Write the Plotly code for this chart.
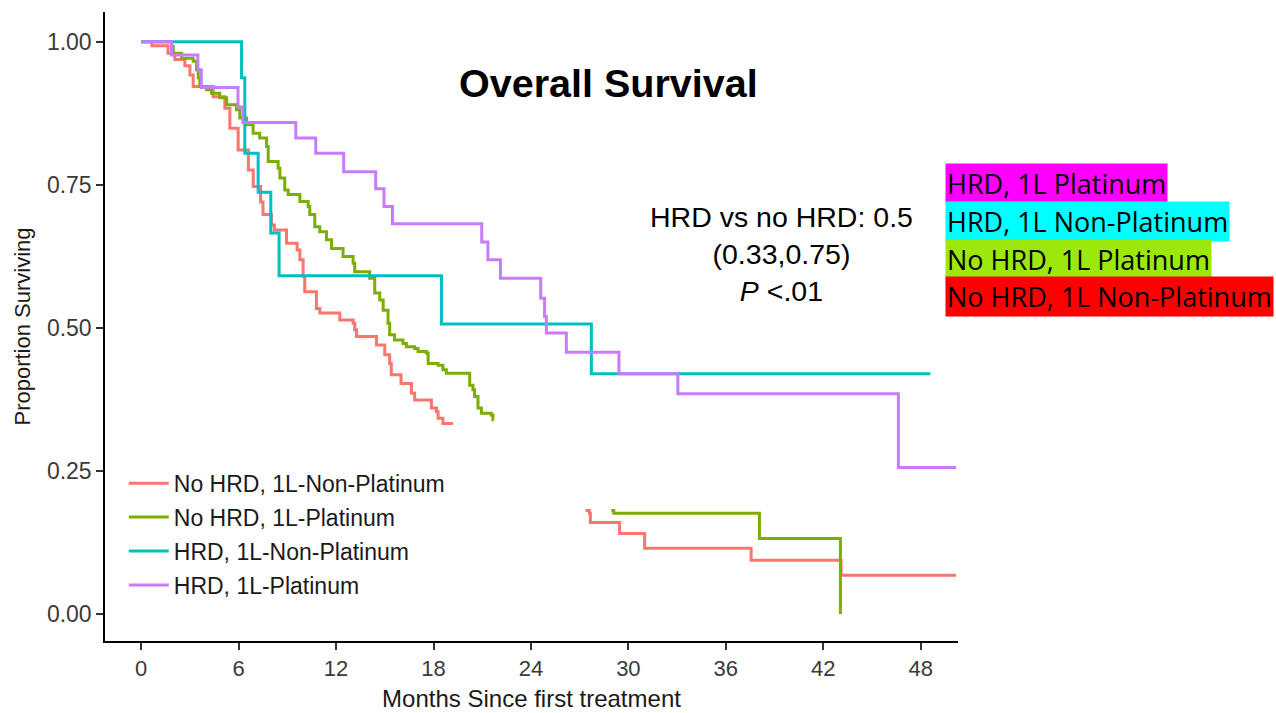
import plotly.graph_objects as go

# ---------------- data ----------------
red_t_a = [0, 0.66, 1.65, 2.07, 2.69, 3.0, 3.2, 4.43, 5.15, 5.46, 5.97, 6.6, 6.9, 7.35, 7.5, 8.02,
           8.2, 8.95, 9.6, 9.77, 9.97, 10.07, 10.79, 11.0, 12.23, 13.05, 13.15, 13.26, 14.49, 15.0,
           15.3, 15.4, 16.0, 16.64, 16.84, 17.87, 18.18, 18.28, 18.58, 19.2]
red_s_a = [1.0, 0.993, 0.980, 0.969, 0.958, 0.942, 0.922, 0.904, 0.884, 0.849, 0.811, 0.776, 0.747,
           0.720, 0.698, 0.680, 0.671, 0.648, 0.636, 0.619, 0.590, 0.563, 0.534, 0.526, 0.514, 0.508,
           0.497, 0.485, 0.470, 0.453, 0.438, 0.418, 0.403, 0.386, 0.374, 0.360, 0.354, 0.342, 0.333,
           0.333]
red_t_b = [27.37, 27.6, 27.66, 29.46, 31.0, 37.56, 43.1, 50.18]
red_s_b = [0.181, 0.176, 0.160, 0.141, 0.115, 0.094, 0.068, 0.068]

green_t_a = [0, 1.87, 1.97, 2.49, 3.2, 3.41, 3.51, 3.61, 4.02, 4.33, 4.84, 5.26, 5.87, 6.07, 6.49,
             6.89, 7.3, 7.72, 7.82, 8.43, 8.54, 8.84, 9.05, 9.77, 10.28, 10.38, 10.69, 11.0, 11.41,
             11.72, 12.43, 13.05, 13.15, 14.07, 14.38, 14.69, 14.9, 15.2, 15.3, 15.6, 16.12, 16.33,
             16.84, 17.05, 17.56, 17.67, 18.28, 18.58, 18.79, 20.23, 20.43, 20.53, 20.74, 20.95,
             21.56, 21.66, 21.7]
green_s_a = [1.0, 0.992, 0.980, 0.971, 0.966, 0.951, 0.937, 0.922, 0.916, 0.910, 0.902, 0.890, 0.881,
             0.867, 0.855, 0.840, 0.832, 0.817, 0.791, 0.779, 0.762, 0.741, 0.733, 0.721, 0.712,
             0.698, 0.677, 0.668, 0.654, 0.639, 0.625, 0.613, 0.598, 0.587, 0.561, 0.549, 0.531,
             0.508, 0.488, 0.479, 0.473, 0.467, 0.464, 0.459, 0.456, 0.438, 0.435, 0.427, 0.421,
             0.400, 0.392, 0.380, 0.360, 0.351, 0.348, 0.339, 0.339]
green_t_b = [28.95, 29.1, 38.07, 43.06]
green_s_b = [0.181, 0.176, 0.132, 0.0]

cyan_t = [0, 6.18, 6.38, 7.2, 7.98, 8.49, 18.49, 27.72, 48.6]
cyan_s = [1.0, 0.937, 0.805, 0.737, 0.666, 0.591, 0.507, 0.420, 0.420]

purple_t = [0, 1.87, 3.49, 3.7, 5.96, 6.26, 9.52, 10.75, 12.47, 14.44, 14.95, 15.47, 20.97, 21.35,
            22.12, 24.6, 24.84, 24.95, 26.18, 29.42, 33.05, 46.63, 50.18]
purple_s = [1.0, 0.977, 0.951, 0.920, 0.886, 0.859, 0.832, 0.805, 0.773, 0.743, 0.712, 0.682, 0.650,
            0.619, 0.587, 0.552, 0.520, 0.491, 0.4575, 0.420, 0.385, 0.256, 0.256]

series_names = ["No HRD, 1L-Non-Platinum", "No HRD, 1L-Platinum",
                "HRD, 1L-Non-Platinum", "HRD, 1L-Platinum"]
series_colors = ["#F8766D", "#7CAE00", "#00BFC4", "#C77CFF"]

x_ticks = [0, 6, 12, 18, 24, 30, 36, 42, 48]
y_ticks = [0.0, 0.25, 0.5, 0.75, 1.0]
y_ticklabels = ["0.00", "0.25", "0.50", "0.75", "1.00"]

side_labels = ["HRD, 1L Platinum", "HRD, 1L Non-Platinum", "No HRD, 1L Platinum",
               "No HRD, 1L Non-Platinum"]
side_colors = ["#FF00FF", "#00FFFF", "#9CE80C", "#FF0000"]

# ---------------- figure ----------------
series_t = [red_t_a + [None] + red_t_b, green_t_a + [None] + green_t_b, cyan_t, purple_t]
series_s = [red_s_a + [None] + red_s_b, green_s_a + [None] + green_s_b, cyan_s, purple_s]

fig = go.Figure()
for i, (name, col) in enumerate(zip(series_names, series_colors)):
    fig.add_trace(go.Scatter(
        x=series_t[i], y=series_s[i], mode="lines", name=name,
        line=dict(color=col, width=3, shape="hv"), connectgaps=False,
        legendgroup=f"g{i}"))

AX_FONT = "Liberation Sans, Arial, sans-serif"

fig.update_layout(
    width=1276, height=713,
    margin=dict(l=105, r=318, t=12, b=72, autoexpand=False),
    paper_bgcolor="white", plot_bgcolor="white",
    showlegend=True,
    legend=dict(x=0.022, y=0.285, xanchor="left", yanchor="top",
                font=dict(family=AX_FONT, size=23, color="#1a1a1a"),
                bgcolor="rgba(0,0,0,0)", itemwidth=40, tracegroupgap=1),
    xaxis=dict(range=[-2.23, 50.3], tickmode="array", tickvals=x_ticks, automargin=False,
               ticks="outside", ticklen=7, tickwidth=1.5, tickcolor="#333333",
               showline=True, linecolor="black", linewidth=1.5, showgrid=False, zeroline=False,
               tickfont=dict(family=AX_FONT, size=22, color="#3a3a3a"),
               title=dict(text="Months Since first treatment", standoff=10,
                          font=dict(family=AX_FONT, size=24, color="#1a1a1a"))),
    yaxis=dict(range=[-0.047, 1.052], tickmode="array", tickvals=y_ticks, automargin=False,
               ticktext=y_ticklabels,
               ticks="outside", ticklen=7, tickwidth=1.5, tickcolor="#333333",
               showline=True, linecolor="black", linewidth=1.5, showgrid=False, zeroline=False,
               tickfont=dict(family=AX_FONT, size=23, color="#3a3a3a"),
               title=dict(text="Proportion Surviving", standoff=10,
                          font=dict(family=AX_FONT, size=22, color="#1a1a1a"))),
)

# title
fig.add_annotation(text="<b>Overall Survival</b>", xref="paper", yref="paper",
                   x=0.5897, y=0.887, xanchor="center", yanchor="middle", showarrow=False,
                   font=dict(family=AX_FONT, size=39.5, color="black"))

# hazard ratio text
fig.add_annotation(text="HRD vs no HRD: 0.5<br>(0.33,0.75)<br><i>P</i> &lt;.01",
                   xref="paper", yref="paper", x=0.7925, y=0.615,
                   xanchor="center", yanchor="middle", align="center", showarrow=False,
                   font=dict(family=AX_FONT, size=28.5, color="black"))

# highlighted side labels
side_y = [0.728, 0.667, 0.607, 0.547]
for lab, col, yy in zip(side_labels, side_colors, side_y):
    fig.add_annotation(text=lab, xref="paper", yref="paper", x=0.9848, y=yy,
                       xanchor="left", yanchor="middle", showarrow=False,
                       bgcolor=col, borderpad=1,
                       font=dict(family="Open Sans, Noto Sans, sans-serif", size=27,
                                 color="black"))

fig.write_html("out.html")
